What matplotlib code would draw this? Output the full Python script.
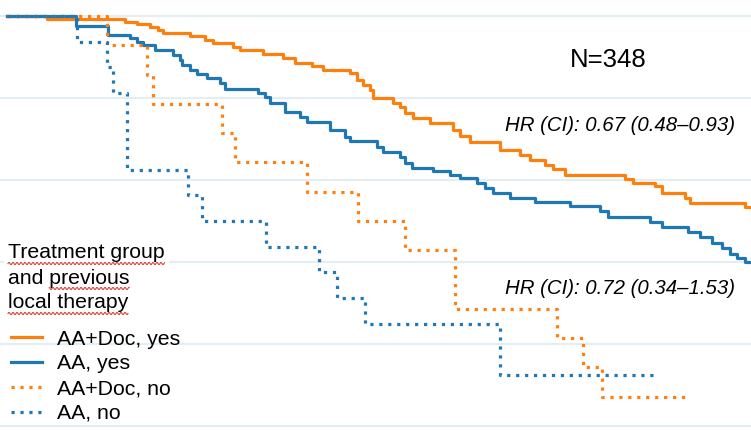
import matplotlib
matplotlib.use("Agg")
import matplotlib.pyplot as plt
import numpy as np
from matplotlib.lines import Line2D

plt.rcParams['font.family'] = ['Liberation Sans', 'DejaVu Sans']

# Kaplan-Meier curves: time (months) and survival
doc_yes_t = [0, 10.0, 29.5, 32.5, 35.75, 37.75, 39.0, 45.75, 49.5, 51.5, 56.5, 58.25,
             64.0, 69.0, 72.0, 76.25, 79.0, 85.75, 87.5, 89.0, 90.75, 91.5, 96.5,
             98.25, 99.5, 101.5, 105.75, 111.5, 113.25, 115.75, 123.25, 128.25,
             130.75, 134.5, 136.5, 139.5, 154.5, 156.5, 162.0, 163.75, 169.5,
             170.75, 184.5, 188.0]
doc_yes_s = [1.0, 0.993, 0.985, 0.980, 0.973, 0.966, 0.959, 0.951, 0.941, 0.934, 0.924,
             0.917, 0.907, 0.898, 0.885, 0.878, 0.868, 0.861, 0.844, 0.832, 0.820,
             0.800, 0.788, 0.778, 0.763, 0.751, 0.739, 0.722, 0.707, 0.693, 0.673,
             0.661, 0.649, 0.637, 0.627, 0.612, 0.602, 0.593, 0.585, 0.568, 0.556,
             0.544, 0.534, 0.534]

aa_yes_t = [0, 17.25, 25.25, 30.75, 32.5, 34.0, 37.0, 41.5, 43.25, 43.75, 45.75, 47.5,
            50.0, 53.25, 54.5, 62.75, 64.5, 65.75, 69.5, 73.25, 75.0, 80.75, 84.5,
            85.75, 92.5, 94.0, 98.25, 99.5, 101.25, 106.5, 110.75, 113.25, 117.5,
            119.5, 121.5, 125.75, 132.0, 140.75, 148.25, 150.25, 160.75, 163.75,
            170.25, 173.25, 176.25, 178.75, 180.75, 182.5, 184.5, 188.0]
aa_yes_s = [1.0, 0.976, 0.954, 0.946, 0.937, 0.929, 0.917, 0.905, 0.893, 0.880, 0.868,
            0.859, 0.849, 0.837, 0.822, 0.812, 0.802, 0.788, 0.766, 0.754, 0.741,
            0.722, 0.705, 0.695, 0.680, 0.668, 0.656, 0.641, 0.629, 0.622, 0.612,
            0.605, 0.593, 0.580, 0.568, 0.556, 0.546, 0.537, 0.524, 0.510, 0.498,
            0.485, 0.473, 0.461, 0.446, 0.434, 0.420, 0.410, 0.400, 0.400]

doc_no_t = [0, 25.0, 35.0, 36.5, 53.75, 57.0, 75.0, 87.75, 99.5, 112.0, 137.5, 144.0,
            148.75, 170.0]
doc_no_s = [1.0, 0.929, 0.857, 0.786, 0.714, 0.643, 0.571, 0.500, 0.429, 0.286, 0.214,
            0.143, 0.071, 0.071]

aa_no_t = [0, 17.5, 25.0, 26.5, 30.0, 45.25, 48.75, 64.75, 78.0, 82.5, 89.5, 123.25, 161.5]
aa_no_s = [1.0, 0.9375, 0.875, 0.8125, 0.625, 0.5625, 0.5, 0.4375, 0.375, 0.3125, 0.25,
           0.125, 0.125]

labels = ['AA+Doc, yes', 'AA, yes', 'AA+Doc, no', 'AA, no']
legend_title = ['Treatment group', 'and previous', 'local therapy']
n_text = 'N=348'
hr_yes = 'HR (CI): 0.67 (0.48\u20130.93)'
hr_no = 'HR (CI): 0.72 (0.34\u20131.53)'

orange = '#ff7f0e'
blue = '#1f77b4'

fig = plt.figure(figsize=(7.51, 4.30), dpi=100)
ax = fig.add_axes([0, 0, 1, 1])

lw = 2.3
h1, = ax.step(doc_yes_t, doc_yes_s, where='post', color=orange, lw=lw)
h2, = ax.step(aa_yes_t, aa_yes_s, where='post', color=blue, lw=lw)
h3, = ax.step(doc_no_t, doc_no_s, where='post', color=orange, lw=lw,
              linestyle=(0, (1, 1.8)), dash_capstyle='butt')
h4, = ax.step(aa_no_t, aa_no_s, where='post', color=blue, lw=lw,
              linestyle=(0, (1, 1.8)), dash_capstyle='butt')

ax.set_xlim(-1.75, 186)
ax.set_ylim(-4 / 410, 1 + 16 / 410)
ax.set_yticks(np.arange(0, 1.01, 0.2))
ax.grid(axis='y', color='#e3edf3', lw=1.5)
ax.grid(axis='x', visible=False)
ax.set_axisbelow(True)
ax.tick_params(length=0, labelleft=False, labelbottom=False)
for sp in ax.spines.values():
    sp.set_visible(False)

ax.text(0.81, 0.86, n_text, transform=ax.transAxes, ha='center', va='center', fontsize=18.5)
ax.text(0.826, 0.709, hr_yes, transform=ax.transAxes, ha='center', va='center',
        fontsize=14.7, style='italic')
ax.text(0.826, 0.330, hr_no, transform=ax.transAxes, ha='center', va='center',
        fontsize=14.7, style='italic')

# legend title as three lines (white box hides the grid line behind it)
title_texts = []
for i, line in enumerate(legend_title):
    t = ax.text(8 / 751, 1 - (253 + 25 * i) / 430, line, transform=ax.transAxes,
                ha='left', va='center', fontsize=15.3,
                bbox=dict(facecolor='white', edgecolor='none', pad=3) if i == 0 else None)
    title_texts.append(t)

ax.legend([h1, h2, h3, h4], labels, loc='upper left', bbox_to_anchor=(5 / 751, 0.248),
          frameon=False, fontsize=15.3, handlelength=1.45, handletextpad=0.72,
          labelspacing=0.27, borderpad=0, borderaxespad=0.3)

# red wavy spell-check underlines
fig.canvas.draw()
r = fig.canvas.get_renderer()
inv = fig.transFigure.inverted()


def wavy(x0, x1, y):
    xs = np.arange(x0, x1, 0.5)
    ys = y + 1.1 * np.sin(xs * 2 * np.pi / 4.0)
    pts = inv.transform(np.column_stack([xs, ys]))
    fig.add_artist(Line2D(pts[:, 0], pts[:, 1], color='#e0443c', lw=0.8))


e0 = title_texts[0].get_window_extent(r)
wavy(e0.x0, e0.x1, e0.y0 - 1)
e1 = title_texts[1].get_window_extent(r)
tmp = ax.text(0, 0, 'previous', fontsize=15.3)
w_prev = tmp.get_window_extent(r).width
tmp.remove()
wavy(e1.x1 - w_prev, e1.x1, e1.y0 - 1)
e2 = title_texts[2].get_window_extent(r)
wavy(e2.x0, e2.x1, e2.y0 - 1)

fig.savefig('out.png', dpi=100)
